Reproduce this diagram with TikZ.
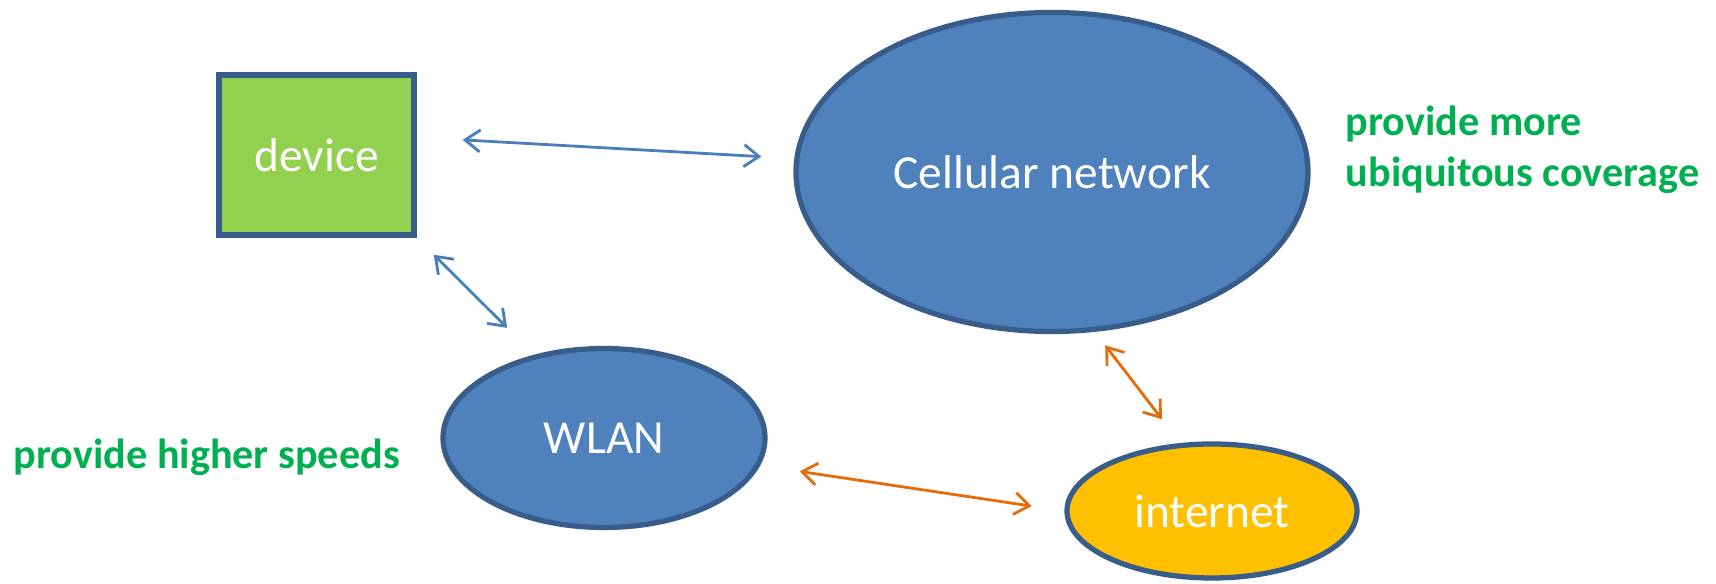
\documentclass[tikz,border=0pt]{standalone}
\usepackage{fontspec}
\setmainfont{Carlito}
\usepackage{xcolor}
\usepackage{tikz}
\usetikzlibrary{shapes.geometric,arrows.meta}
\definecolor{netblue}{HTML}{4F81BD}
\definecolor{edgeblue}{HTML}{385D8A}
\definecolor{devgreen}{HTML}{92D050}
\definecolor{netgold}{HTML}{FFC000}
\definecolor{linkorange}{HTML}{E46C0A}
\definecolor{linkblue}{HTML}{4A7EBB}
\definecolor{notegreen}{HTML}{00B050}
\tikzset{
  box/.style={draw=edgeblue, line width=1.6pt, fill=devgreen, inner sep=0pt,
    minimum width=1.95cm, minimum height=1.6cm, text=white, font=\fontsize{13.5}{16}\selectfont},
  net/.style={ellipse, draw=edgeblue, line width=1.5pt, fill=netblue, inner sep=0pt,
    text=white, font=\fontsize{13.5}{16}\selectfont},
  blink/.style={draw=linkblue, line width=0.8pt, {Straight Barb[length=1.5mm,width=2.2mm]}-{Straight Barb[length=1.5mm,width=2.2mm]}},
  olink/.style={draw=linkorange, line width=0.8pt, {Straight Barb[length=1.5mm,width=2.2mm]}-{Straight Barb[length=1.5mm,width=2.2mm]}},
  note/.style={text=notegreen, font=\fontsize{12}{14.5}\selectfont\bfseries, align=left, inner sep=0pt},
}
\begin{document}
\begin{tikzpicture}
  \useasboundingbox (0,0) rectangle (17.16,-5.84);

  \node[box] (device) at (3.165,-1.55) {device};
  \node[net, minimum width=5.12cm, minimum height=3.19cm] (cell) at (10.52,-1.72) {Cellular network};
  \node[net, minimum width=3.22cm, minimum height=1.79cm] (wlan) at (6.04,-4.38) {WLAN};
  \node[net, fill=netgold, minimum width=2.90cm, minimum height=1.34cm] (inet) at (12.12,-5.11) {internet};

  \draw[blink, shorten <=4.6mm, shorten >=3.3mm] (device.10) -- (cell.177);
  \draw[blink, shorten <=2.4mm, shorten >=3.8mm] (device.south east) -- (wlan.130);
  \draw[olink, shorten <=4mm, shorten >=3.3mm] (wlan.-10) -- (inet.west);
  \draw[olink, shorten <=1.7mm, shorten >=3mm] (cell.-75) -- (inet.115);

  \node[note, anchor=west] (more) at (13.45,-1.50) {provide more\\ubiquitous coverage};
  \node[note, anchor=west] (speed) at (0.13,-4.57) {provide higher speeds};
\end{tikzpicture}
\end{document}
